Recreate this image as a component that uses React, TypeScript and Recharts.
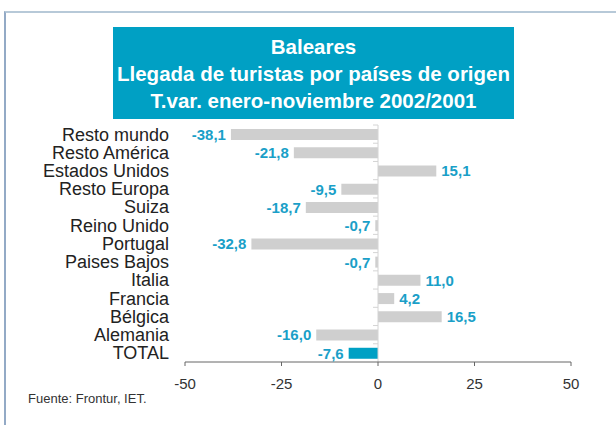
import { BarChart, Bar, XAxis, YAxis, Cell, LabelList, ReferenceLine } from 'recharts';

const categories = [
    "Resto mundo",
    "Resto América",
    "Estados Unidos",
    "Resto Europa",
    "Suiza",
    "Reino Unido",
    "Portugal",
    "Paises Bajos",
    "Italia",
    "Francia",
    "Bélgica",
    "Alemania",
    "TOTAL",
];
const variation = [-38.1, -21.8, 15.1, -9.5, -18.7, -0.7, -32.8, -0.7, 11.0, 4.2, 16.5, -16.0, -7.6];
const xTicks = [-50, -25, 0, 25, 50];
const titleLines = ["Baleares", "Llegada de turistas por países de origen", "T.var. enero-noviembre 2002/2001"];
const source = "Fuente: Frontur, IET.";

const FONT = '"Liberation Sans", Arial, sans-serif';
const BLUE = "#00a0c4";
const LABEL_BLUE = "#1a9fc8";

const fmt = (v: number) => v.toFixed(1).replace(".", ",");

const ValueLabel = (props: any) => {
    const { x, y, width, height, value } = props;
    const left = Math.min(x, x + width);
    const right = Math.max(x, x + width);
    const neg = value < 0;
    return (
        <text
            x={neg ? left - 5 : right + 5}
            y={y + height / 2}
            dy="0.36em"
            textAnchor={neg ? "end" : "start"}
            fill={LABEL_BLUE}
            fontSize={15}
            fontWeight="bold"
            fontFamily={FONT}
        >
            {fmt(value)}
        </text>
    );
};

// zero line with small marks between categories
const ZeroLine = (props: any) => {
    const { x1, y1, y2 } = props;
    const top = Math.min(y1, y2);
    const step = Math.abs(y2 - y1) / categories.length;
    const marks = [];
    for (let i = 0; i < categories.length; i++) {
        const yy = top + i * step;
        marks.push(<line key={i} x1={x1 - 5} y1={yy} x2={x1} y2={yy} stroke="#d4d4d4" strokeWidth={1} />);
    }
    return (
        <g>
            <line x1={x1} y1={y1} x2={x1} y2={y2} stroke="#d4d4d4" strokeWidth={1} />
            {marks}
        </g>
    );
};

const App = () => {
    const data = categories.map((name, i) => ({ name, value: variation[i] }));

    return (
        <div style={{ position: "absolute", left: 0, top: 0, width: 616, height: 425, background: "#fff", fontFamily: FONT }}>
            <div
                style={{
                    position: "absolute",
                    left: 4,
                    top: 11,
                    width: 612,
                    height: 414,
                    borderTop: "2px solid #b7c9d8",
                    borderLeft: "2px solid #93aac6",
                }}
            />
            <div
                style={{
                    position: "absolute",
                    left: 113,
                    top: 27,
                    width: 401,
                    height: 92,
                    background: BLUE,
                    color: "#fff",
                    fontWeight: "bold",
                    fontSize: 20.5,
                    lineHeight: "27px",
                    textAlign: "center",
                    paddingTop: 6,
                    boxSizing: "border-box",
                }}
            >
                {titleLines.map((t) => (
                    <div key={t} style={{ whiteSpace: "nowrap" }}>{t}</div>
                ))}
            </div>
            <div style={{ position: "absolute", left: 0, top: 0 }}>
                <BarChart
                    width={616}
                    height={425}
                    data={data}
                    layout="vertical"
                    margin={{ top: 125, right: 45, left: 0, bottom: 33 }}
                    barSize={11}
                >
                    <XAxis
                        type="number"
                        domain={[-50, 50]}
                        ticks={xTicks}
                        interval={0}
                        height={30}
                        axisLine={{ stroke: "#666" }}
                        tickLine={{ stroke: "#666" }}
                        tickSize={4}
                        tickMargin={12}
                        tick={{ fontSize: 15, fill: "#333", fontFamily: FONT }}
                    />
                    <YAxis
                        type="category"
                        dataKey="name"
                        width={185}
                        axisLine={false}
                        tickLine={false}
                        tickSize={0}
                        tickMargin={16}
                        interval={0}
                        tick={{ fontSize: 18, fill: "#222", fontFamily: FONT }}
                    />
                    <ReferenceLine x={0} shape={ZeroLine} />
                    <Bar dataKey="value" isAnimationActive={false}>
                        {data.map((d) => (
                            <Cell key={d.name} fill={d.name === "TOTAL" ? BLUE : "#cfcfcf"} />
                        ))}
                        <LabelList dataKey="value" content={ValueLabel} />
                    </Bar>
                </BarChart>
            </div>
            <div style={{ position: "absolute", left: 28, top: 391, fontSize: 13, color: "#333", whiteSpace: "nowrap" }}>
                {source}
            </div>
        </div>
    );
};

export default App;
